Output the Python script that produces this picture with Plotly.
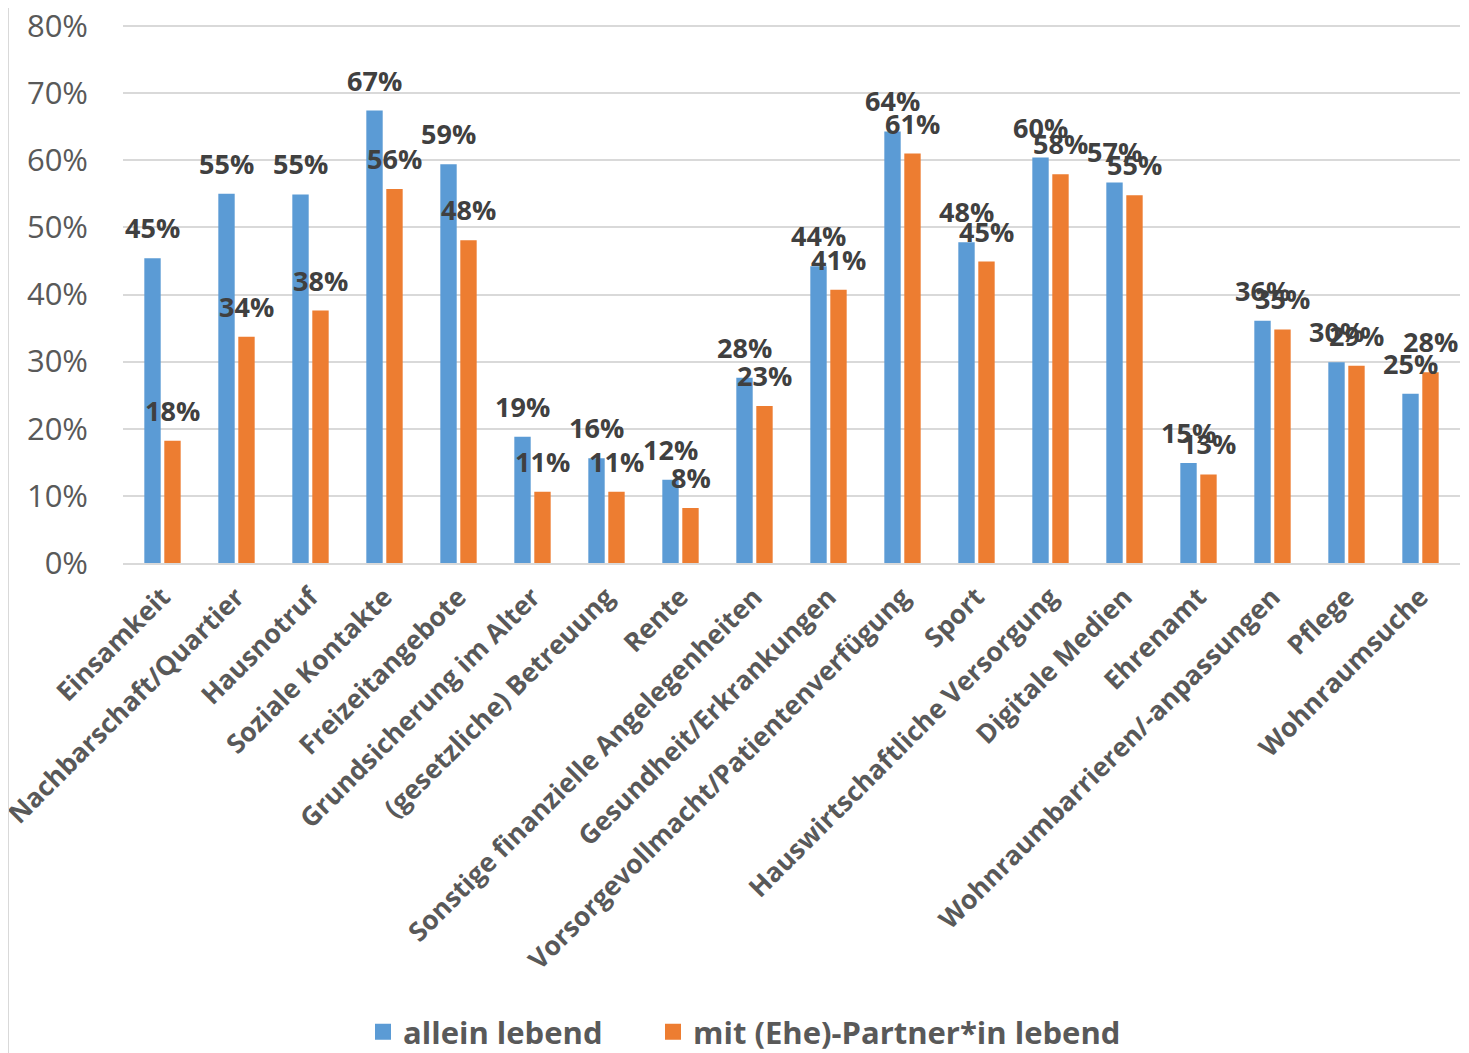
import plotly.graph_objects as go

categories = [
    "Einsamkeit", "Nachbarschaft/Quartier", "Hausnotruf", "Soziale Kontakte",
    "Freizeitangebote", "Grundsicherung im Alter", "(gesetzliche) Betreuung", "Rente",
    "Sonstige finanzielle Angelegenheiten", "Gesundheit/Erkrankungen",
    "Vorsorgevollmacht/Patientenverfügung", "Sport", "Hauswirtschaftliche Versorgung",
    "Digitale Medien", "Ehrenamt", "Wohnraumbarrieren/-anpassungen", "Pflege",
    "Wohnraumsuche",
]
allein = [45.4, 55.0, 54.9, 67.4, 59.4, 18.8, 15.6, 12.4, 27.6, 44.2,
          64.3, 47.8, 60.4, 56.7, 14.9, 36.1, 29.9, 25.2]
partner = [18.2, 33.7, 37.6, 55.7, 48.1, 10.6, 10.6, 8.2, 23.4, 40.7,
           61.0, 44.9, 57.9, 54.8, 13.2, 34.8, 29.4, 28.4]
series_names = ["allein lebend", "mit (Ehe)-Partner*in lebend"]
y_ticks = [0, 10, 20, 30, 40, 50, 60, 70, 80]

BLUE = "#5B9BD5"
ORANGE = "#ED7D31"
FONT = "Open Sans"
W, H = 1461, 1045
ML, MR, MT, MB = 115, 9, 17, 490

fig = go.Figure()
fig.add_trace(go.Bar(x=categories, y=allein, name=series_names[0],
                     marker=dict(color=BLUE, line=dict(width=0)), showlegend=False))
fig.add_trace(go.Bar(x=categories, y=partner, name=series_names[1],
                     marker=dict(color=ORANGE, line=dict(width=0)), showlegend=False))
# legend-only entries with larger square keys
for name, color, lg in ((series_names[0], BLUE, "legend"), (series_names[1], ORANGE, "legend2")):
    fig.add_trace(go.Scatter(x=[None], y=[None], mode="markers", name=name,
                             marker=dict(symbol="square", size=18, color=color),
                             legend=lg, showlegend=True, hoverinfo="skip"))

annotations = []
for vals, shift in ((allein, -10), (partner, 10)):
    for c, v in zip(categories, vals):
        annotations.append(dict(
            x=c, y=v, text=f"{round(v)}%", showarrow=False,
            xanchor="center", yanchor="bottom", xshift=shift, yshift=10,
            font=dict(family=FONT, size=27, color="#404040", weight="bold"),
        ))

legend_font = dict(family=FONT, size=31, color="#595959", weight="bold")
plot_w = W - ML - MR
plot_h = H - MT - MB

fig.update_layout(
    width=W, height=H,
    margin=dict(l=ML, r=MR, t=MT, b=MB, autoexpand=False),
    paper_bgcolor="white", plot_bgcolor="white",
    barmode="group", bargap=0.46, bargroupgap=0.18,
    annotations=annotations,
    showlegend=True,
    legend=dict(orientation="h", xref="container", yref="container",
                x=355 / W, y=0.02, xanchor="left", yanchor="middle",
                font=legend_font, bgcolor="rgba(0,0,0,0)", itemsizing="trace"),
    legend2=dict(orientation="h", xref="container", yref="container",
                 x=645 / W, y=0.02, xanchor="left", yanchor="middle",
                 font=legend_font, bgcolor="rgba(0,0,0,0)", itemsizing="trace"),
    font=dict(family=FONT, color="#595959"),
    shapes=[dict(type="line", xref="paper", yref="paper",
                 x0=-ML / plot_w, x1=-ML / plot_w,
                 y0=-MB / plot_h, y1=(plot_h + MT) / plot_h,
                 line=dict(color="#D9D9D9", width=2))],
)
fig.update_xaxes(
    type="category", tickangle=-45, automargin=False,
    tickfont=dict(family=FONT, size=26.5, color="#595959", weight="bold"),
    showline=True, linecolor="#D9D9D9", linewidth=2,
    showgrid=False, ticks="", ticklabelstandoff=6,
)
fig.update_yaxes(
    range=[0, 80.15], tickvals=y_ticks, ticktext=[f"{t}%" for t in y_ticks],
    automargin=False, ticklabeloverflow="allow",
    tickfont=dict(family=FONT, size=31, color="#595959"),
    showgrid=True, gridcolor="#D9D9D9", gridwidth=2,
    zeroline=False, showline=False, ticks="", ticklabelstandoff=34,
)

fig.write_html("out.html")
